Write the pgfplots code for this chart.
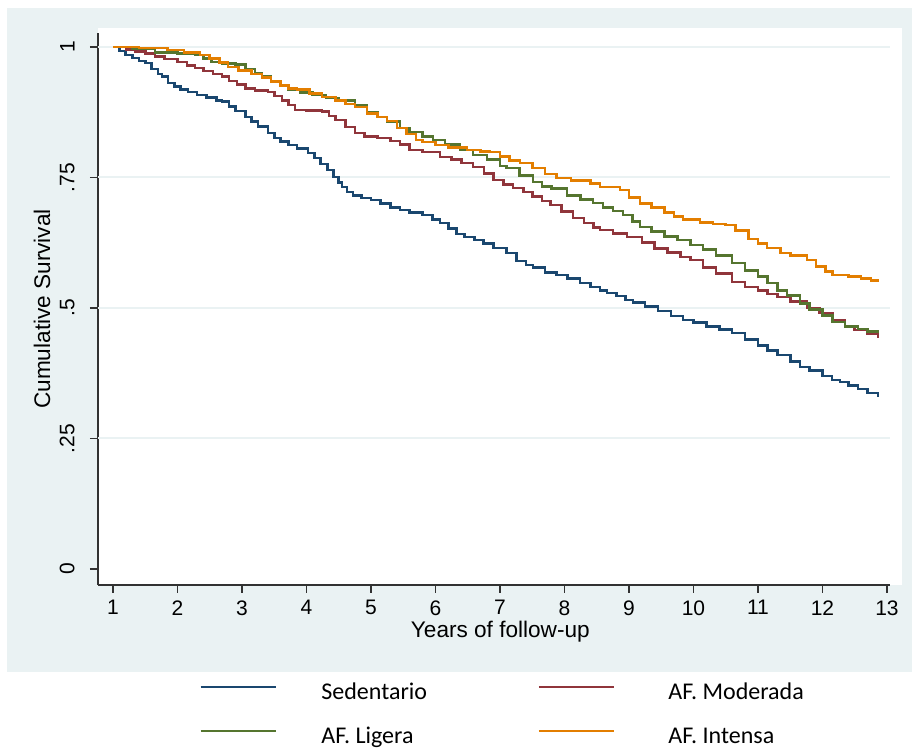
\documentclass[border=0pt]{standalone}
\usepackage{fontspec}
\setmainfont{Liberation Sans}
\newfontfamily\legfont{Carlito}
\usepackage{pgfplots}
\pgfplotsset{compat=1.18}
\definecolor{bgc}{RGB}{234,242,243}
\definecolor{gridc}{RGB}{234,242,243}
\definecolor{sneavy}{RGB}{26,71,111}
\definecolor{smaroon}{RGB}{144,53,59}
\definecolor{sgreen}{RGB}{85,117,47}
\definecolor{sorange}{RGB}{227,126,0}
\definecolor{axc}{RGB}{50,50,50}
\begin{document}
\begin{tikzpicture}
\useasboundingbox (0,0) rectangle (456pt,374.5pt);
\fill[white] (0,0) rectangle (456pt,374.5pt);
\fill[bgc] (3.5pt,38.5pt) rectangle (456pt,370.5pt);
\fill[white] (49pt,82pt) rectangle (451pt,360.5pt);
\begin{axis}[
  at={(49pt,82pt)}, anchor=south west,
  scale only axis, width=396pt, height=276pt,
  xmin=0.767, xmax=13.047, ymin=-0.0307, ymax=1.0268,
  axis x line*=bottom, axis y line*=left,
  axis line style={axc, line width=1pt},
  tick align=outside, major tick length=4pt,
  tick style={axc, line width=0.75pt},
  xtick={1,2,3,4,5,6,7,8,9,10,11,12,13},
  ytick={0,0.25,0.5,0.75,1},
  yticklabels={0,.25,.5,.75,1},
  /pgf/number format/assume math mode=true,
  tick label style={font=\fontsize{10.5}{12}\selectfont, inner sep=0pt},
  xticklabel style={anchor=north},
  yticklabel style={rotate=90, anchor=south},
  xticklabel shift=3.5pt,
  yticklabel shift=7.5pt,
  extra y ticks={0.25,0.5,0.75,1},
  extra y tick labels={},
  extra y tick style={grid=major, major grid style={draw=gridc, line width=1pt}, tick style={draw=none}},
  xlabel={Years of follow-up},
  ylabel={Cumulative Survival},
  label style={font=\fontsize{11.3}{13}\selectfont},
  xlabel style={at={(axis description cs:0.508,-0.0851)}, anchor=center},
  ylabel style={at={(axis description cs:-0.0707,0.5)}, anchor=center, rotate=0},
  legend columns=2,
  legend cell align=left,
  legend image code/.code={\draw[#1, line width=0.7pt] (0pt,3.5pt) -- (37.5pt,3.5pt);},
  legend style={draw=none, fill=none, inner sep=0pt, outer sep=0pt,
    at={(axis description cs:0.1288,-0.1775)}, anchor=north west,
    font=\legfont\fontsize{12}{14}\selectfont,
    nodes={inner sep=0pt, text height=8.5pt, text depth=2.5pt},
    row sep=11pt,
    /tikz/every odd column/.append style={column sep=22.5pt},
    /tikz/every even column/.append style={column sep=55.5pt}},
  every axis plot/.append style={const plot, line width=1.3pt, mark=none},
]
\addplot[sneavy] table {
1.00 1.000
1.10 0.992
1.19 0.985
1.30 0.979
1.40 0.973
1.50 0.969
1.60 0.958
1.70 0.948
1.76 0.943
1.85 0.931
1.95 0.924
2.05 0.919
2.16 0.914
2.30 0.908
2.45 0.903
2.60 0.898
2.69 0.895
2.80 0.886
2.90 0.877
3.05 0.866
3.15 0.857
3.25 0.848
3.40 0.835
3.50 0.826
3.60 0.819
3.72 0.812
3.85 0.805
4.02 0.797
4.12 0.787
4.22 0.776
4.33 0.764
4.42 0.751
4.50 0.740
4.55 0.732
4.63 0.722
4.72 0.716
4.85 0.711
5.00 0.707
5.15 0.700
5.30 0.693
5.45 0.688
5.60 0.683
5.80 0.678
5.95 0.670
6.07 0.663
6.20 0.652
6.33 0.642
6.45 0.636
6.60 0.630
6.74 0.624
6.90 0.615
7.10 0.605
7.26 0.590
7.40 0.582
7.51 0.577
7.70 0.568
7.88 0.563
8.05 0.556
8.24 0.548
8.40 0.540
8.55 0.534
8.66 0.529
8.81 0.523
8.95 0.515
9.06 0.510
9.25 0.503
9.45 0.494
9.65 0.485
9.84 0.477
10.00 0.472
10.20 0.465
10.40 0.459
10.60 0.452
10.80 0.440
11.00 0.428
11.15 0.418
11.30 0.410
11.50 0.397
11.65 0.387
11.80 0.380
12.00 0.370
12.15 0.362
12.27 0.358
12.40 0.352
12.55 0.345
12.70 0.337
12.86 0.330
};
\addlegendentry{Sedentario}
\addplot[smaroon] table {
1.00 1.000
1.20 0.995
1.35 0.991
1.50 0.988
1.65 0.982
1.80 0.977
2.00 0.971
2.15 0.965
2.27 0.960
2.40 0.954
2.55 0.948
2.69 0.943
2.80 0.935
2.92 0.928
3.05 0.921
3.20 0.917
3.40 0.914
3.50 0.906
3.62 0.898
3.72 0.889
3.82 0.879
4.00 0.878
4.24 0.876
4.35 0.868
4.45 0.860
4.60 0.847
4.75 0.835
4.90 0.829
5.10 0.826
5.30 0.820
5.45 0.813
5.60 0.803
5.80 0.799
6.07 0.789
6.25 0.784
6.40 0.778
6.58 0.770
6.75 0.758
6.90 0.745
7.05 0.737
7.20 0.730
7.36 0.722
7.50 0.713
7.65 0.705
7.78 0.697
7.95 0.685
8.13 0.672
8.30 0.663
8.45 0.654
8.55 0.649
8.75 0.643
8.97 0.636
9.20 0.625
9.40 0.614
9.60 0.606
9.80 0.598
9.95 0.592
10.15 0.578
10.35 0.566
10.60 0.550
10.80 0.540
11.00 0.533
11.15 0.527
11.30 0.521
11.50 0.512
11.76 0.500
11.95 0.490
12.16 0.477
12.35 0.465
12.50 0.458
12.70 0.450
12.86 0.443
};
\addlegendentry{\hspace*{4.5pt}AF. Moderada}
\addplot[sgreen] table {
1.00 1.000
1.30 0.997
1.65 0.990
2.00 0.988
2.27 0.985
2.40 0.978
2.53 0.971
2.70 0.968
2.90 0.966
3.05 0.958
3.20 0.950
3.31 0.943
3.45 0.934
3.60 0.925
3.72 0.918
3.90 0.913
4.09 0.908
4.30 0.902
4.50 0.897
4.75 0.889
4.94 0.874
5.10 0.866
5.25 0.857
5.45 0.845
5.60 0.837
5.80 0.829
5.96 0.822
6.15 0.813
6.38 0.803
6.58 0.793
6.80 0.784
7.00 0.772
7.10 0.768
7.30 0.754
7.51 0.741
7.65 0.733
7.80 0.729
8.04 0.716
8.25 0.708
8.44 0.701
8.60 0.692
8.75 0.686
8.91 0.678
9.05 0.666
9.17 0.655
9.35 0.646
9.55 0.637
9.75 0.630
9.95 0.621
10.15 0.612
10.35 0.600
10.60 0.586
10.80 0.572
11.00 0.560
11.15 0.548
11.30 0.534
11.45 0.524
11.65 0.509
11.80 0.497
12.00 0.486
12.16 0.473
12.35 0.465
12.55 0.460
12.70 0.455
12.86 0.452
};
\addlegendentry{AF. Ligera}
\addplot[sorange] table {
1.00 1.000
1.40 0.998
1.84 0.994
2.10 0.990
2.35 0.985
2.50 0.978
2.65 0.970
2.78 0.962
2.95 0.955
3.15 0.948
3.31 0.941
3.45 0.934
3.60 0.926
3.72 0.920
3.85 0.918
4.05 0.911
4.24 0.904
4.45 0.897
4.60 0.891
4.75 0.885
4.94 0.872
5.10 0.866
5.25 0.858
5.40 0.845
5.55 0.833
5.70 0.822
5.80 0.818
6.00 0.812
6.20 0.808
6.49 0.803
6.70 0.800
6.84 0.799
7.00 0.790
7.15 0.783
7.31 0.778
7.50 0.768
7.70 0.757
7.88 0.749
8.10 0.744
8.40 0.739
8.55 0.732
8.86 0.726
9.00 0.712
9.17 0.700
9.35 0.693
9.55 0.683
9.70 0.675
9.84 0.669
10.10 0.664
10.30 0.661
10.50 0.659
10.65 0.648
10.85 0.632
11.00 0.623
11.14 0.615
11.35 0.605
11.50 0.601
11.76 0.592
11.90 0.580
12.05 0.570
12.16 0.563
12.40 0.560
12.60 0.557
12.75 0.553
12.86 0.550
};
\addlegendentry{\hspace*{4.5pt}AF. Intensa}
\end{axis}
\end{tikzpicture}
\end{document}
